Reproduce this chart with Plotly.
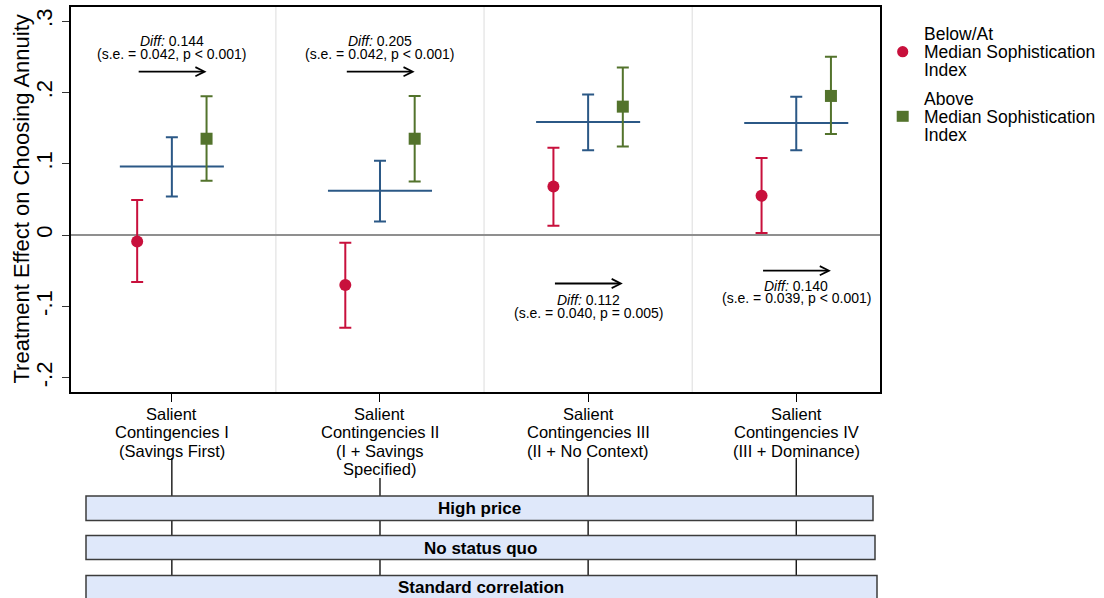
import plotly.graph_objects as go

# ---------------- data ----------------
categories = [1, 2, 3, 4]
category_labels = [
    ["Salient", "Contingencies I", "(Savings First)"],
    ["Salient", "Contingencies II", "(I + Savings", "Specified)"],
    ["Salient", "Contingencies III", "(II + No Context)"],
    ["Salient", "Contingencies IV", "(III + Dominance)"],
]
below_est = [-0.009, -0.070, 0.068, 0.055]
below_lo = [-0.066, -0.130, 0.013, 0.003]
below_hi = [0.049, -0.011, 0.1225, 0.108]

pooled_est = [0.096, 0.062, 0.1585, 0.157]
pooled_lo = [0.054, 0.019, 0.119, 0.119]
pooled_hi = [0.137, 0.104, 0.197, 0.194]

above_est = [0.135, 0.135, 0.180, 0.195]
above_lo = [0.076, 0.075, 0.124, 0.1415]
above_hi = [0.1945, 0.195, 0.2347, 0.250]

diff_vals = ["0.144", "0.205", "0.112", "0.140"]
diff_se = ["(s.e. = 0.042, p < 0.001)", "(s.e. = 0.042, p < 0.001)",
           "(s.e. = 0.040, p = 0.005)", "(s.e. = 0.039, p < 0.001)"]
# annotation placement (y of arrow, y of 'Diff' line, y of s.e. line) in data units
diff_arrow_y = [0.229, 0.229, -0.068, -0.050]
diff_line1_y = [0.2725, 0.2725, -0.091, -0.0715]
diff_line2_y = [0.2535, 0.2535, -0.1095, -0.0885]

y_title = "Treatment Effect on Choosing Annuity"
y_tickvals = [-0.2, -0.1, 0, 0.1, 0.2, 0.3]
y_ticktext = ["-.2", "-.1", "0", ".1", ".2", ".3"]

legend_labels = [["Below/At", "Median Sophistication", "Index"],
                 ["Above", "Median Sophistication", "Index"]]
panel_labels = ["High price", "No status quo", "Standard correlation"]

# ---------------- style ----------------
RED = "#c8103c"
GREEN = "#53732c"
BLUE = "#2b5886"
FONT = "Liberation Sans, Arial, Helvetica, sans-serif"
OFF = 1 / 6          # horizontal offset of subgroup markers
HALF = 0.25          # half-width of pooled horizontal bar

W, H = 1104, 598
L, R, T, B = 71, 880, 7, 392   # plot area in pixels


def px(x):
    return (x - L) / (R - L)


def py(y):
    return (B - y) / (B - T)


fig = go.Figure()

xr = [c - OFF for c in categories]
xg = [c + OFF for c in categories]

fig.add_trace(go.Scatter(
    x=xr, y=below_est, mode="markers", showlegend=False,
    marker=dict(symbol="circle", size=12, color=RED),
    error_y=dict(type="data", symmetric=False,
                 array=[h - e for h, e in zip(below_hi, below_est)],
                 arrayminus=[e - l for e, l in zip(below_est, below_lo)],
                 color=RED, thickness=2, width=6)))

fig.add_trace(go.Scatter(
    x=categories, y=pooled_est, mode="markers", showlegend=False,
    marker=dict(size=0.1, color=BLUE),
    error_y=dict(type="data", symmetric=False,
                 array=[h - e for h, e in zip(pooled_hi, pooled_est)],
                 arrayminus=[e - l for e, l in zip(pooled_est, pooled_lo)],
                 color=BLUE, thickness=2, width=6),
    error_x=dict(type="constant", value=HALF, color=BLUE, thickness=2, width=0)))

fig.add_trace(go.Scatter(
    x=xg, y=above_est, mode="markers", showlegend=False,
    marker=dict(symbol="square", size=12, color=GREEN),
    error_y=dict(type="data", symmetric=False,
                 array=[h - e for h, e in zip(above_hi, above_est)],
                 arrayminus=[e - l for e, l in zip(above_est, above_lo)],
                 color=GREEN, thickness=2, width=6)))

shapes = []
annotations = []

# group dividers
for d in [1.5, 2.5, 3.5]:
    shapes.append(dict(type="line", xref="x", yref="paper", x0=d, x1=d, y0=0, y1=1,
                       line=dict(color="#dcdcdc", width=1), layer="below"))

# Diff annotations with arrows
for i, c in enumerate(categories):
    annotations.append(dict(
        xref="x", yref="y", axref="x", ayref="y",
        x=c + OFF, y=diff_arrow_y[i], ax=c - OFF, ay=diff_arrow_y[i],
        text="", showarrow=True, arrowhead=5, arrowsize=1, arrowwidth=1.8,
        arrowcolor="black", standoff=0, startstandoff=0))
    annotations.append(dict(
        xref="x", yref="y", x=c, y=diff_line1_y[i], showarrow=False,
        text="<i>Diff:</i> " + diff_vals[i], font=dict(size=14, color="black", family=FONT),
        xanchor="center", yanchor="middle"))
    annotations.append(dict(
        xref="x", yref="y", x=c, y=diff_line2_y[i], showarrow=False,
        text=diff_se[i], font=dict(size=14, color="black", family=FONT),
        xanchor="center", yanchor="middle"))

# y-axis title (rotated)
annotations.append(dict(
    xref="paper", yref="paper", x=px(21), y=py(199.5), showarrow=False,
    text=y_title, textangle=-90, font=dict(size=22, color="black", family=FONT),
    xanchor="center", yanchor="middle"))

# category labels (lines placed individually for tight leading)
label_line_px = [414, 432.3, 450.6, 468.9]
for c, lines in zip(categories, category_labels):
    for j, t in enumerate(lines):
        annotations.append(dict(
            xref="x", yref="paper", x=c, y=py(label_line_px[j]), showarrow=False,
            text=t, font=dict(size=16.5, color="black", family=FONT),
            xanchor="center", yanchor="middle"))

# connector lines from labels down through the panel boxes
for c, lines in zip(categories, category_labels):
    start = 478 if len(lines) == 4 else 458
    shapes.append(dict(type="line", xref="x", yref="paper", x0=c, x1=c,
                       y0=py(start), y1=py(600), line=dict(color="black", width=1.3)))

# panel boxes
box_px = [(86, 873, 496, 520.5), (86, 875, 535.5, 559.5), (86, 877, 575.5, 602)]
box_text_px = [508.5, 548, 587]
for (x0, x1, y0, y1), t, yc in zip(box_px, panel_labels, box_text_px):
    shapes.append(dict(type="rect", xref="paper", yref="paper",
                       x0=px(x0), x1=px(x1), y0=py(y1), y1=py(y0),
                       fillcolor="#dfe8fa", line=dict(color="#3c3c3c", width=1.5)))
    annotations.append(dict(
        xref="paper", yref="paper", x=px((x0 + x1) / 2), y=py(yc), showarrow=False,
        text="<b>" + t + "</b>", font=dict(size=17, color="black", family=FONT),
        xanchor="center", yanchor="middle"))

# legend (drawn manually for tight leading)
leg_marker_px = [(902.7, 51.7), (902.7, 116.3)]
leg_line_px = [[34.3, 52, 70], [98.5, 116.5, 134.5]]
for k in range(2):
    mx, my = leg_marker_px[k]
    if k == 0:
        shapes.append(dict(type="circle", xref="paper", yref="paper",
                           x0=px(mx - 5.6), x1=px(mx + 5.6), y0=py(my + 5.6), y1=py(my - 5.6),
                           fillcolor=RED, line=dict(width=0)))
    else:
        shapes.append(dict(type="rect", xref="paper", yref="paper",
                           x0=px(mx - 6), x1=px(mx + 6), y0=py(my + 5.5), y1=py(my - 5.5),
                           fillcolor=GREEN, line=dict(width=0)))
    for j, t in enumerate(legend_labels[k]):
        annotations.append(dict(
            xref="paper", yref="paper", x=px(921.5), y=py(leg_line_px[k][j]),
            showarrow=False, text=t, font=dict(size=17.5, color="black", family=FONT),
            xanchor="left", yanchor="middle"))

fig.update_layout(
    width=W, height=H,
    margin=dict(l=L, r=W - R, t=T, b=H - B, pad=0, autoexpand=False),
    paper_bgcolor="white", plot_bgcolor="white",
    font=dict(family=FONT, color="black"),
    showlegend=False,
    shapes=shapes, annotations=annotations,
    xaxis=dict(range=[0.5154, 4.4024], tickvals=categories, ticktext=["", "", "", ""],
               ticks="outside", ticklen=8, tickwidth=1.3, tickcolor="black",
               showgrid=False, zeroline=False, showline=True, linecolor="black",
               linewidth=2, mirror=True, automargin=False),
    yaxis=dict(range=[-0.2201, 0.3197], tickvals=y_tickvals,
               ticktext=y_ticktext, tickangle=-90,
               tickfont=dict(size=22, family=FONT, color="black"),
               ticks="outside", ticklen=7, tickwidth=1.3, tickcolor="#333",
               ticklabelstandoff=1, automargin=False,
               showgrid=False, zeroline=True, zerolinecolor="#8f8f8f", zerolinewidth=2,
               showline=True, linecolor="black", linewidth=2, mirror=True),
)

fig.write_html("out.html", config={"displayModeBar": False},
               post_script="document.body.style.margin='0';document.body.style.overflow='hidden';")
